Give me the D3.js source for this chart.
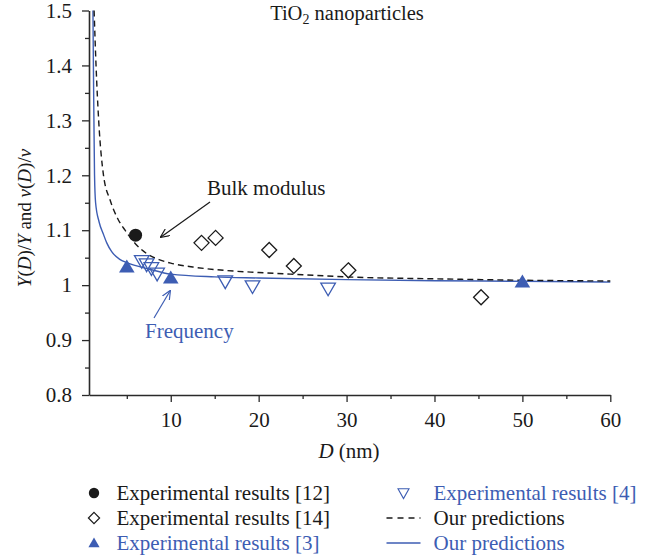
<!DOCTYPE html>
<html>
<head>
<meta charset="utf-8">
<script src="https://cdn.jsdelivr.net/npm/d3@7"></script>
<style>
  body { margin: 0; background: #fff; }
  svg text { font-family: 'Liberation Serif', 'DejaVu Serif', serif; }
</style>
</head>
<body>
<div id="chart"></div>
<script>
// data
const exp12 = [[6.0, 1.091]]
const exp14 = [[13.5, 1.077], [15.1, 1.086], [21.2, 1.064], [24.0, 1.035], [30.2, 1.027], [45.3, 0.978]]
const exp3 = [[5.0, 1.032], [10.0, 1.012], [50.0, 1.005]]
const exp4 = [[6.7, 1.046], [7.25, 1.040], [7.8, 1.033], [8.45, 1.023], [16.2, 1.009], [19.3, 1.0], [27.9, 0.996]]
const predBulk = [[1.28, 1.50], [1.5, 1.40], [1.8, 1.30], [2.35, 1.20], [3.1, 1.155], [4.0, 1.12], [4.8, 1.10],
  [6.0, 1.075], [7.5, 1.055], [8.75, 1.046], [10, 1.04], [12.5, 1.033], [16, 1.027], [20, 1.023], [25, 1.019],
  [30, 1.015], [40, 1.0115], [50, 1.009], [60, 1.0075]]
const predFreq = [[1.15, 1.50], [1.2, 1.40], [1.26, 1.30], [1.33, 1.20], [1.45, 1.15], [1.85, 1.115], [2.33, 1.093],
  [2.72, 1.077], [3.28, 1.061], [4.2, 1.047], [5, 1.041], [7.6, 1.029], [10, 1.02], [15, 1.015], [20, 1.013],
  [30, 1.010], [40, 1.008], [50, 1.007], [60, 1.0055]]
const xTicks = [10, 20, 30, 40, 50, 60]
const xMinor = [5, 15, 25, 35, 45, 55]
const yTicks = [0.8, 0.9, 1, 1.1, 1.2, 1.3, 1.4, 1.5]
const yMinor = [0.85, 0.95, 1.05, 1.15, 1.25, 1.35, 1.45]

const width = 651, height = 560
const blue = '#3d5db3'
const ink = '#1a1a1a'
const serif = "'Liberation Serif', 'DejaVu Serif', serif"
const plotLeft = 89, plotRight = 610.3, plotTop = 10.5, plotBottom = 395
const fs = 21

const svg = d3.select('#chart').append('svg')
  .attr('width', width)
  .attr('height', height)
  .attr('font-family', serif)

const x = d3.scaleLinear().domain([0.7, 60]).range([plotLeft, plotRight])
const y = d3.scaleLinear().domain([0.8, 1.5]).range([plotBottom, plotTop])

// axes
function styleAxis(g) {
  g.attr('font-family', serif)
  g.select('.domain').attr('stroke', '#2a2a2a').attr('stroke-width', 1.6)
  g.selectAll('.tick line').attr('stroke', '#2a2a2a').attr('stroke-width', 1.3)
  g.selectAll('text').attr('font-family', serif).attr('font-size', fs).attr('fill', ink)
}

svg.append('g')
  .attr('transform', `translate(0,${plotBottom})`)
  .call(d3.axisBottom(x).tickValues(xMinor).tickSize(4).tickFormat('').tickSizeOuter(0))
  .call(g => g.select('.domain').remove())
  .call(g => g.selectAll('.tick line').attr('stroke', '#2a2a2a').attr('stroke-width', 1.3))
svg.append('g')
  .attr('transform', `translate(${plotLeft},0)`)
  .call(d3.axisLeft(y).tickValues(yMinor).tickSize(4).tickFormat('').tickSizeOuter(0))
  .call(g => g.select('.domain').remove())
  .call(g => g.selectAll('.tick line').attr('stroke', '#2a2a2a').attr('stroke-width', 1.3))

svg.append('g')
  .attr('transform', `translate(0,${plotBottom})`)
  .call(d3.axisBottom(x).tickValues(xTicks).tickSize(7).tickPadding(10).tickSizeOuter(0))
  .call(styleAxis)
svg.append('g')
  .attr('transform', `translate(${plotLeft},0)`)
  .call(d3.axisLeft(y).tickValues(yTicks).tickSize(7).tickPadding(10).tickSizeOuter(0).tickFormat(d => String(d)))
  .call(styleAxis)

// prediction curves
const line = d3.line()
  .x(d => x(d[0]))
  .y(d => y(d[1]))
  .curve(d3.curveMonotoneX)

svg.append('path')
  .datum(predFreq)
  .attr('d', line)
  .attr('fill', 'none')
  .attr('stroke', blue)
  .attr('stroke-width', 1.4)

svg.append('path')
  .datum(predBulk)
  .attr('d', line)
  .attr('fill', 'none')
  .attr('stroke', ink)
  .attr('stroke-width', 1.4)
  .attr('stroke-dasharray', '6,4')

// markers
svg.selectAll('.exp12')
  .data(exp12)
  .enter()
  .append('circle')
  .attr('cx', d => x(d[0]))
  .attr('cy', d => y(d[1]))
  .attr('r', 6.5)
  .attr('fill', ink)

svg.selectAll('.exp14')
  .data(exp14)
  .enter()
  .append('path')
  .attr('d', 'M0,-7.5L7.5,0L0,7.5L-7.5,0Z')
  .attr('transform', d => `translate(${x(d[0])},${y(d[1])})`)
  .attr('fill', '#fff')
  .attr('stroke', ink)
  .attr('stroke-width', 1.3)

svg.selectAll('.exp4')
  .data(exp4)
  .enter()
  .append('path')
  .attr('d', 'M-7.3,-4.3L7.3,-4.3L0,8.4Z')
  .attr('transform', d => `translate(${x(d[0])},${y(d[1])})`)
  .attr('fill', 'none')
  .attr('stroke', blue)
  .attr('stroke-width', 1.3)

svg.selectAll('.exp3')
  .data(exp3)
  .enter()
  .append('path')
  .attr('d', 'M-7.8,5L7.8,5L0,-8Z')
  .attr('transform', d => `translate(${x(d[0])},${y(d[1])})`)
  .attr('fill', blue)

// title
svg.append('text')
  .attr('x', 347)
  .attr('y', 20)
  .attr('text-anchor', 'middle')
  .attr('font-size', 20.5)
  .attr('fill', ink)
  .call(t => {
    t.append('tspan').text('TiO')
    t.append('tspan').attr('font-size', 14).attr('dy', 4).text('2')
    t.append('tspan').attr('dy', -4).text(' nanoparticles')
  })

// axis titles
svg.append('text')
  .attr('x', 349)
  .attr('y', 458)
  .attr('text-anchor', 'middle')
  .attr('font-size', fs)
  .attr('fill', ink)
  .call(t => {
    t.append('tspan').attr('font-style', 'italic').text('D')
    t.append('tspan').text(' (nm)')
  })

svg.append('text')
  .attr('transform', 'translate(31,218) rotate(-90)')
  .attr('text-anchor', 'middle')
  .attr('font-size', 19)
  .attr('fill', ink)
  .call(t => {
    t.append('tspan').attr('font-style', 'italic').text('Y')
    t.append('tspan').text('(')
    t.append('tspan').attr('font-style', 'italic').text('D')
    t.append('tspan').text(')/')
    t.append('tspan').attr('font-style', 'italic').text('Y')
    t.append('tspan').text(' and ')
    t.append('tspan').attr('font-style', 'italic').text('ν')
    t.append('tspan').text('(')
    t.append('tspan').attr('font-style', 'italic').text('D')
    t.append('tspan').text(')/')
    t.append('tspan').attr('font-style', 'italic').text('ν')
  })

// annotations
const defs = svg.append('defs')
function arrowHead(id, color) {
  defs.append('marker')
    .attr('id', id)
    .attr('viewBox', '0 -5 10 10')
    .attr('refX', 9)
    .attr('refY', 0)
    .attr('markerWidth', 9)
    .attr('markerHeight', 9)
    .attr('markerUnits', 'userSpaceOnUse')
    .attr('orient', 'auto')
    .append('path')
    .attr('d', 'M0,-4.5L10,0L0,4.5')
    .attr('fill', 'none')
    .attr('stroke', color)
    .attr('stroke-width', 1.3)
}
arrowHead('ahBlack', ink)
arrowHead('ahBlue', blue)

svg.append('text')
  .attr('x', 207)
  .attr('y', 195)
  .attr('font-size', fs)
  .attr('fill', ink)
  .text('Bulk modulus')
svg.append('line')
  .attr('x1', 210).attr('y1', 202)
  .attr('x2', 161).attr('y2', 237)
  .attr('stroke', ink)
  .attr('stroke-width', 1.2)
  .attr('marker-end', 'url(#ahBlack)')

svg.append('text')
  .attr('x', 145)
  .attr('y', 338)
  .attr('font-size', fs)
  .attr('fill', blue)
  .text('Frequency')
svg.append('line')
  .attr('x1', 154).attr('y1', 318)
  .attr('x2', 170).attr('y2', 291)
  .attr('stroke', blue)
  .attr('stroke-width', 1.2)
  .attr('marker-end', 'url(#ahBlue)')

// legend
const legendLabels = ['Experimental results [12]', 'Experimental results [14]', 'Experimental results [3]',
  'Experimental results [4]', 'Our predictions', 'Our predictions']
const legendColors = [ink, ink, blue, blue, ink, blue]
const rowY = [493, 518, 543]

const legend = svg.append('g')
legendLabels.forEach((label, i) => {
  const col = i < 3 ? 0 : 1
  const ly = rowY[i % 3]
  const sx = col === 0 ? 94 : 403.5
  const tx = col === 0 ? 116.5 : 433.5
  const g = legend.append('g')
  if (i === 0) g.append('circle').attr('cx', sx).attr('cy', ly).attr('r', 5.2).attr('fill', ink)
  if (i === 1) g.append('path').attr('d', 'M0,-5.6L5.6,0L0,5.6L-5.6,0Z')
    .attr('transform', `translate(${sx},${ly})`).attr('fill', 'none').attr('stroke', ink).attr('stroke-width', 1.2)
  if (i === 2) g.append('path').attr('d', 'M-5.6,4.3L5.6,4.3L0,-5.6Z')
    .attr('transform', `translate(${sx},${ly})`).attr('fill', blue)
  if (i === 3) g.append('path').attr('d', 'M-5.5,-4.3L5.5,-4.3L0,5.6Z')
    .attr('transform', `translate(${sx},${ly})`).attr('fill', 'none').attr('stroke', blue).attr('stroke-width', 1.1)
  if (i === 4) g.append('line').attr('x1', 386.5).attr('x2', 420.5).attr('y1', ly).attr('y2', ly)
    .attr('stroke', ink).attr('stroke-width', 1.3).attr('stroke-dasharray', '6,5')
  if (i === 5) g.append('line').attr('x1', 386.5).attr('x2', 420.5).attr('y1', ly).attr('y2', ly)
    .attr('stroke', blue).attr('stroke-width', 1.3)
  g.append('text')
    .attr('x', tx)
    .attr('y', ly + 7)
    .attr('font-size', fs)
    .attr('fill', legendColors[i])
    .text(label)
})
</script>
</body>
</html>
